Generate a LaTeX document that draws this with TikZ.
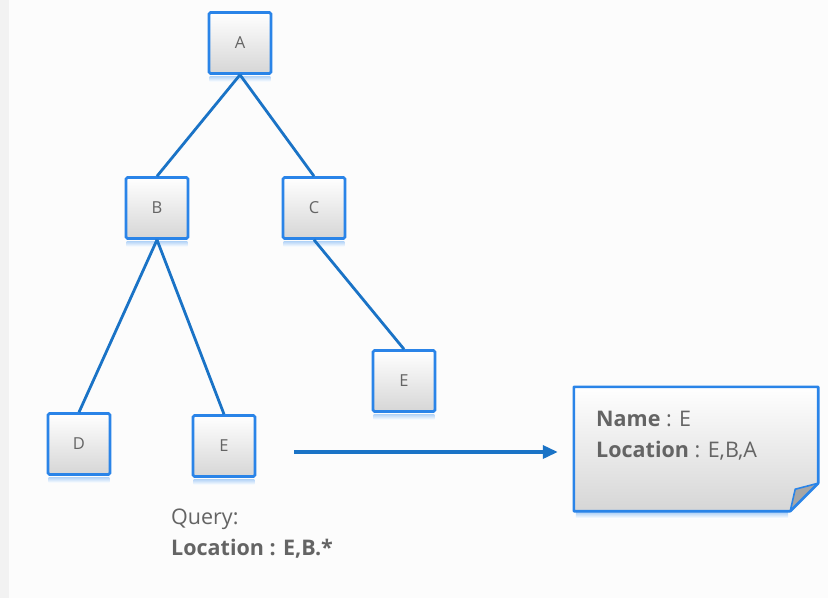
\documentclass[tikz,border=0pt]{standalone}
\usepackage{fontspec}
\setmainfont{Open Sans}
\usetikzlibrary{arrows.meta}
\definecolor{boxblue}{RGB}{42,132,232}
\definecolor{lineblue}{RGB}{26,115,198}
\definecolor{txtgray}{RGB}{100,100,100}
\definecolor{fillbot}{RGB}{214,214,214}
\tikzset{
  treenode/.style={rectangle, draw=boxblue, line width=2.6pt, rounded corners=1.5pt,
    minimum width=62pt, minimum height=61pt, top color=white, bottom color=fillbot,
    text=txtgray, font=\fontsize{16.5}{19}\selectfont, inner sep=0pt},
  edge/.style={draw=lineblue, line width=2.8pt},
  reflect/.style={top color=boxblue!35, bottom color=white, draw=none},
  label/.style={text=txtgray, font=\fontsize{21.5}{25}\selectfont, anchor=west, inner sep=0pt},
}
\begin{document}
\begin{tikzpicture}[x=1pt,y=-1pt]
  % page background with a pale strip on the left
  \useasboundingbox (0,0) rectangle (828,598);
  \fill[white!99!black] (0,0) rectangle (828,598);
  \fill[black!5] (0,0) rectangle (9,598);

  % tree
  \node[treenode] (A)  at (240,43)  {A};
  \node[treenode] (B)  at (157,208) {B};
  \node[treenode] (C)  at (314,208) {C};
  \node[treenode] (E1) at (404,381) {E};
  \node[treenode] (D)  at (79,444)  {D};
  \node[treenode] (E2) at (224,446) {E};

  % faint reflections under the boxes
  \foreach \n in {A,B,C,E1,D,E2}{
    \shade[reflect] ([xshift=2pt,yshift=-1.5pt]\n.south west) rectangle ([xshift=-2pt,yshift=-7pt]\n.south east);
  }

  \draw[edge] (A.south) -- (B.north);
  \draw[edge] (A.south) -- (C.north);
  \draw[edge] (B.south) -- (D.north);
  \draw[edge] (B.south) -- (E2.north);
  \draw[edge] (C.south) -- (E1.north);

  % query text
  \node[label] (q1) at (171,519) {Query:};
  \node[label] (q2) at (171,549) {\textbf{Location : E,B.*}};

  % result note with folded corner
  \node[minimum width=244pt, minimum height=124pt, inner sep=0pt] (note) at (696,449) {};
  \shade[top color=white, bottom color=fillbot]
    (note.north west) -- (note.north east) -- ([yshift=28pt]note.south east)
    -- ([xshift=-28pt]note.south east) -- (note.south west) -- cycle;
  \shade[reflect] ([xshift=2pt,yshift=-1.5pt]note.south west) rectangle ([xshift=-30pt,yshift=-7pt]note.south east);
  \fill[black!35] ([yshift=28pt]note.south east) -- ([xshift=-28pt]note.south east)
    -- ([xshift=-23pt,yshift=22pt]note.south east) -- cycle;
  \draw[boxblue, line width=2.6pt, line join=round]
    (note.north west) -- (note.north east) -- ([yshift=28pt]note.south east)
    -- ([xshift=-28pt]note.south east) -- (note.south west) -- cycle;
  \draw[boxblue, line width=1.6pt, line join=round]
    ([yshift=28pt]note.south east) -- ([xshift=-23pt,yshift=22pt]note.south east)
    -- ([xshift=-28pt]note.south east);
  \node[label] (n1) at (596,419) {\textbf{Name} : E};
  \node[label] (n2) at (596,451) {\textbf{Location} : E,B,A};

  % arrow from query to result
  \coordinate (qs) at (294,452);
  \draw[edge, line width=3.4pt, -{Triangle[length=15pt,width=13pt]}, shorten >=16pt] (qs) -- (qs -| note.west);
\end{tikzpicture}
\end{document}
